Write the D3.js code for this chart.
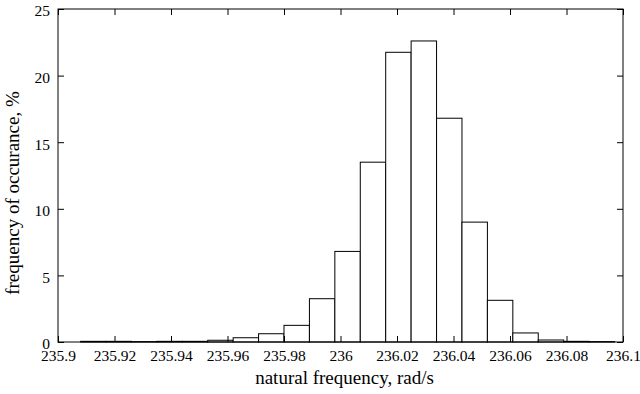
<!DOCTYPE html>
<html>
<head>
<script src="https://d3js.org/d3.v7.min.js"></script>
<style>
  body { margin: 0; background: #fff; }
  text { font-family: "Liberation Serif", "Times New Roman", serif; fill: #000; }
</style>
</head>
<body>
<svg width="640" height="394"></svg>
<script>
// histogram bins: lower edge of each bin (rad/s) and share of samples (%)
var binStart = [235.908, 235.917, 235.926, 235.935, 235.944, 235.953, 235.962,
                235.971, 235.980, 235.989, 235.998, 236.007, 236.016, 236.025,
                236.034, 236.043, 236.052, 236.061, 236.070, 236.079, 236.088];
var binWidth = 0.009;
var percent = [0.05, 0.05, 0.03, 0.05, 0.05, 0.13, 0.32,
               0.62, 1.25, 3.25, 6.8, 13.5, 21.75, 22.6,
               16.8, 9.0, 3.13, 0.68, 0.15, 0.05, 0.03];

var xTicks = [235.9, 235.92, 235.94, 235.96, 235.98, 236, 236.02, 236.04, 236.06, 236.08, 236.1];
var yTicks = [0, 5, 10, 15, 20, 25];

var plotL = 58, plotR = 623, plotT = 9, plotB = 342;
var svg = d3.select('svg');

var x = d3.scaleLinear().domain([235.9, 236.1]).range([plotL, plotR]);
var y = d3.scaleLinear().domain([0, 25]).range([plotB, plotT]);

// bars
svg.append('g')
  .selectAll('rect')
  .data(binStart)
  .enter()
  .append('rect')
  .attr('x', function(d) { return x(d); })
  .attr('y', function(d, i) { return y(percent[i]); })
  .attr('width', function(d) { return x(d + binWidth) - x(d); })
  .attr('height', function(d, i) { return y(0) - y(percent[i]); })
  .attr('fill', 'white')
  .attr('stroke', 'black')
  .attr('stroke-width', 1);

// axes with inward ticks
var fmt = function(d) { return String(+d.toFixed(2)); };
var xAxis = svg.append('g').attr('transform', 'translate(0,' + plotB + ')')
  .call(d3.axisBottom(x).tickValues(xTicks).tickSize(-6).tickPadding(8).tickFormat(fmt));
svg.append('g').attr('transform', 'translate(0,' + plotT + ')')
  .call(d3.axisTop(x).tickValues(xTicks).tickSize(-6).tickFormat(''));
var yAxis = svg.append('g').attr('transform', 'translate(' + plotL + ',0)')
  .call(d3.axisLeft(y).tickValues(yTicks).tickSize(-6).tickPadding(8));
svg.append('g').attr('transform', 'translate(' + plotR + ',0)')
  .call(d3.axisRight(y).tickValues(yTicks).tickSize(-6).tickFormat(''));

svg.selectAll('.domain').remove();
svg.selectAll('.tick line').attr('stroke', 'black');
svg.selectAll('.tick text')
  .style('font-family', '"Liberation Serif", serif')
  .attr('font-size', 15.5);
xAxis.selectAll('.tick text').attr('y', 19).attr('dy', 0);
yAxis.selectAll('.tick text').attr('dy', '0.45em');

// frame
svg.append('rect')
  .attr('x', plotL).attr('y', plotT)
  .attr('width', plotR - plotL).attr('height', plotB - plotT)
  .attr('fill', 'none').attr('stroke', 'black').attr('stroke-width', 1);

// axis titles
svg.append('text')
  .attr('x', (plotL + plotR) / 2 + 4).attr('y', 384)
  .attr('text-anchor', 'middle').attr('font-size', 19)
  .text('natural frequency, rad/s');

svg.append('text')
  .attr('transform', 'translate(19,193) rotate(-90)')
  .attr('text-anchor', 'middle').attr('font-size', 19)
  .text('frequency of occurance, %');
</script>
</body>
</html>
